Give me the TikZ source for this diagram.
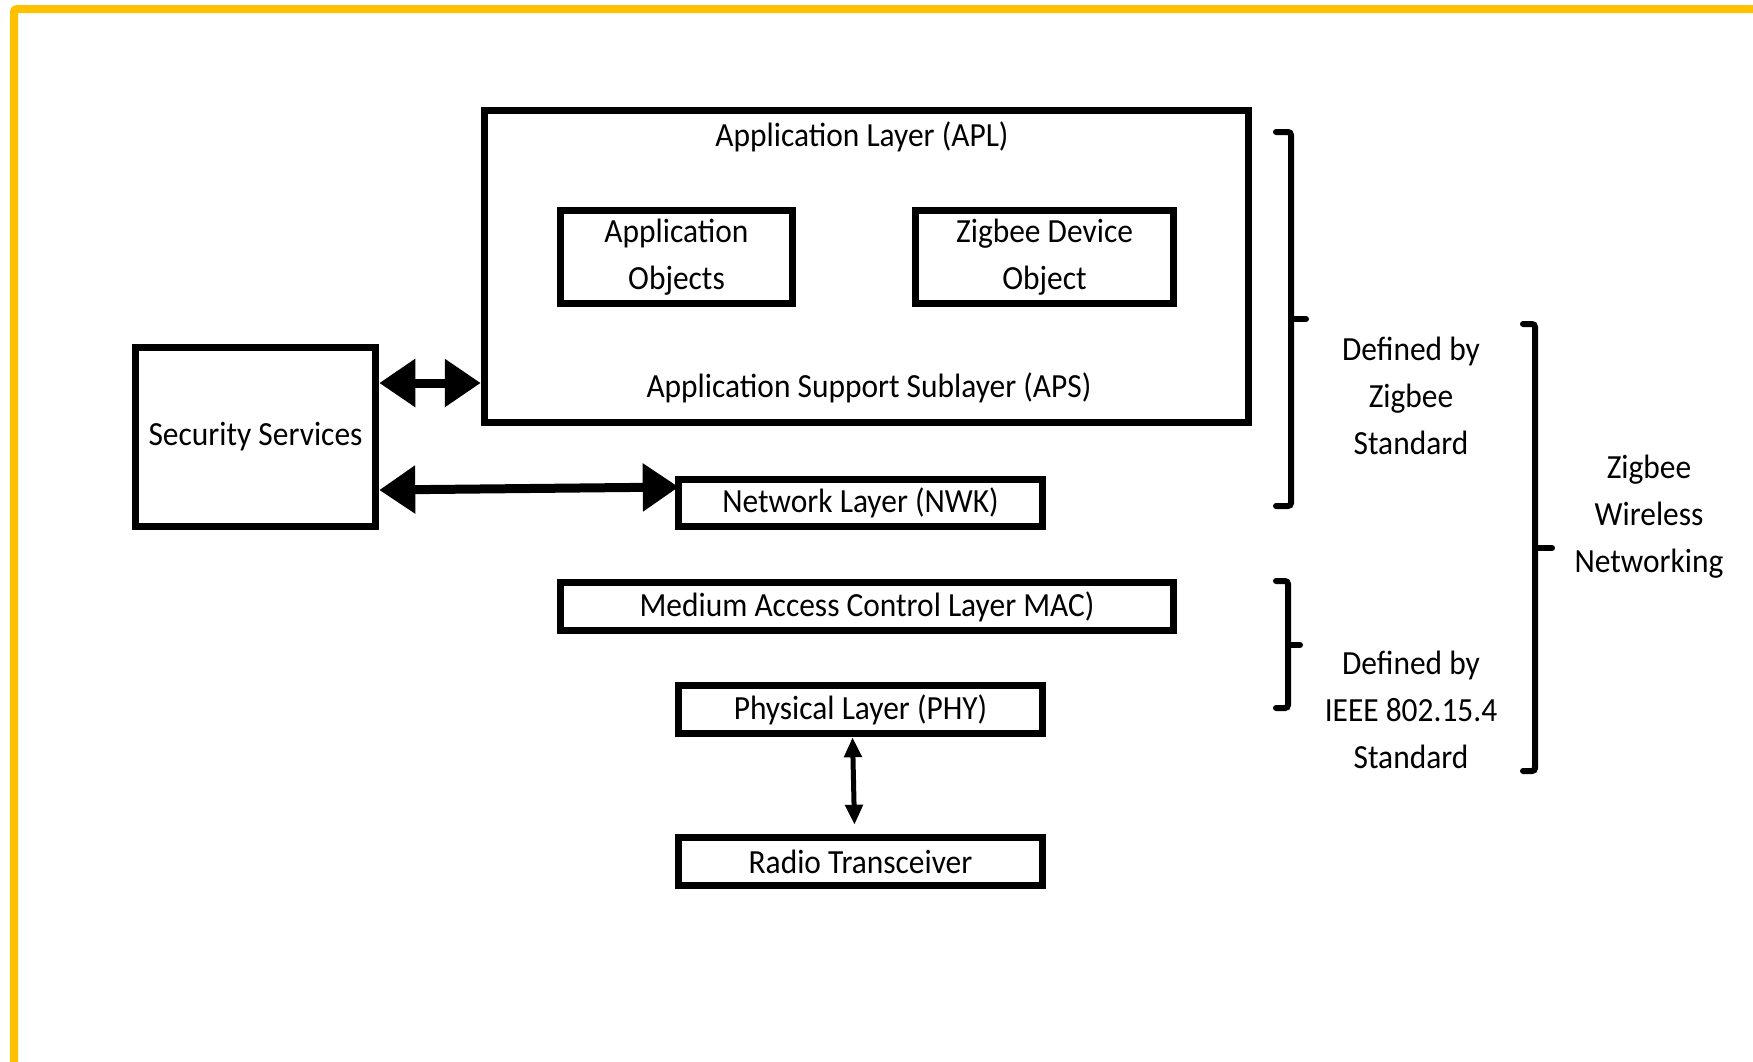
\documentclass[tikz,border=0pt]{standalone}
\usepackage{fontspec}
\setmainfont[FakeStretch=0.93]{Carlito}
\usetikzlibrary{arrows.meta}
\definecolor{frameorange}{HTML}{FFC000}
\begin{document}
\begin{tikzpicture}[x=1pt,y=-1pt,
  every node/.style={font=\fontsize{33.8}{47}\selectfont},
  box/.style={draw, line width=7.5pt, inner sep=0pt, align=center},
  lbl/.style={align=center, inner sep=0pt},
  bigarrow/.style={line width=9pt, {Triangle[length=36pt,width=46pt]}-{Triangle[length=36pt,width=46pt]}},
  smallarrow/.style={line width=5pt, {Triangle[length=20pt,width=17pt]}-{Triangle[length=20pt,width=17pt]}},
  bracket/.style={line width=6pt, rounded corners=3pt, line cap=round}
]
\useasboundingbox (0,0) rectangle (1753,1061);
% frame
\draw[frameorange, line width=8pt, rounded corners=3pt] (14,1070) -- (14,9) -- (1760,9);

% boxes
\node[box, minimum width=764pt, minimum height=312pt] (apl) at (866.5,266.5) {};
\node[lbl] (apltitle) at (862,137) {Application Layer (APL)};
\node[lbl] (aps) at (869,388) {Application Support Sublayer (APS)};
\node[box, minimum width=232pt, minimum height=93pt] (ao) at (676.5,257) {Application\\Objects};
\node[box, minimum width=258pt, minimum height=93pt] (zdo) at (1044.5,257) {Zigbee Device\\Object};
\node[box, minimum width=240pt, minimum height=179pt] (sec) at (255.5,437) {Security Services};
\node[box, minimum width=364pt, minimum height=47pt] (nwk) at (860.5,503) {Network Layer (NWK)};
\node[box, minimum width=613pt, minimum height=48pt] (mac) at (867,606.5) {Medium Access Control Layer MAC)};
\node[box, minimum width=364pt, minimum height=48pt] (phy) at (860.5,709.5) {Physical Layer (PHY)};
\node[box, minimum width=364pt, minimum height=48pt] (radio) at (860.5,861.5) {Radio Transceiver};

% arrows
\draw[bigarrow] (sec.east |- 0,383) -- (apl.west |- 0,383);
\draw[bigarrow] (sec.east |- 0,490) -- ([xshift=4pt]nwk.west |- 0,487);
\draw[smallarrow] ([xshift=-8pt]phy.south) -- ([xshift=-6pt,yshift=9pt]radio.north);

% brackets
\draw[bracket] (1276,132) -- (1291,132) -- (1291,506) -- (1276,506);
\draw[bracket] (1291,319) -- (1306,319);
\draw[bracket] (1276,581) -- (1288,581) -- (1288,708) -- (1276,708);
\draw[bracket] (1288,645) -- (1300,645);
\draw[bracket] (1523,324) -- (1535,324) -- (1535,771) -- (1523,771);
\draw[bracket] (1535,548) -- (1552,548);

% labels
\node[lbl] (def1) at (1411,396) {Defined by\\Zigbee\\Standard};
\node[lbl] (def2) at (1411,710) {Defined by\\IEEE 802.15.4\\Standard};
\node[lbl] (zwn) at (1649,517) {Zigbee\\Wireless\\Networking};
\end{tikzpicture}
\end{document}
